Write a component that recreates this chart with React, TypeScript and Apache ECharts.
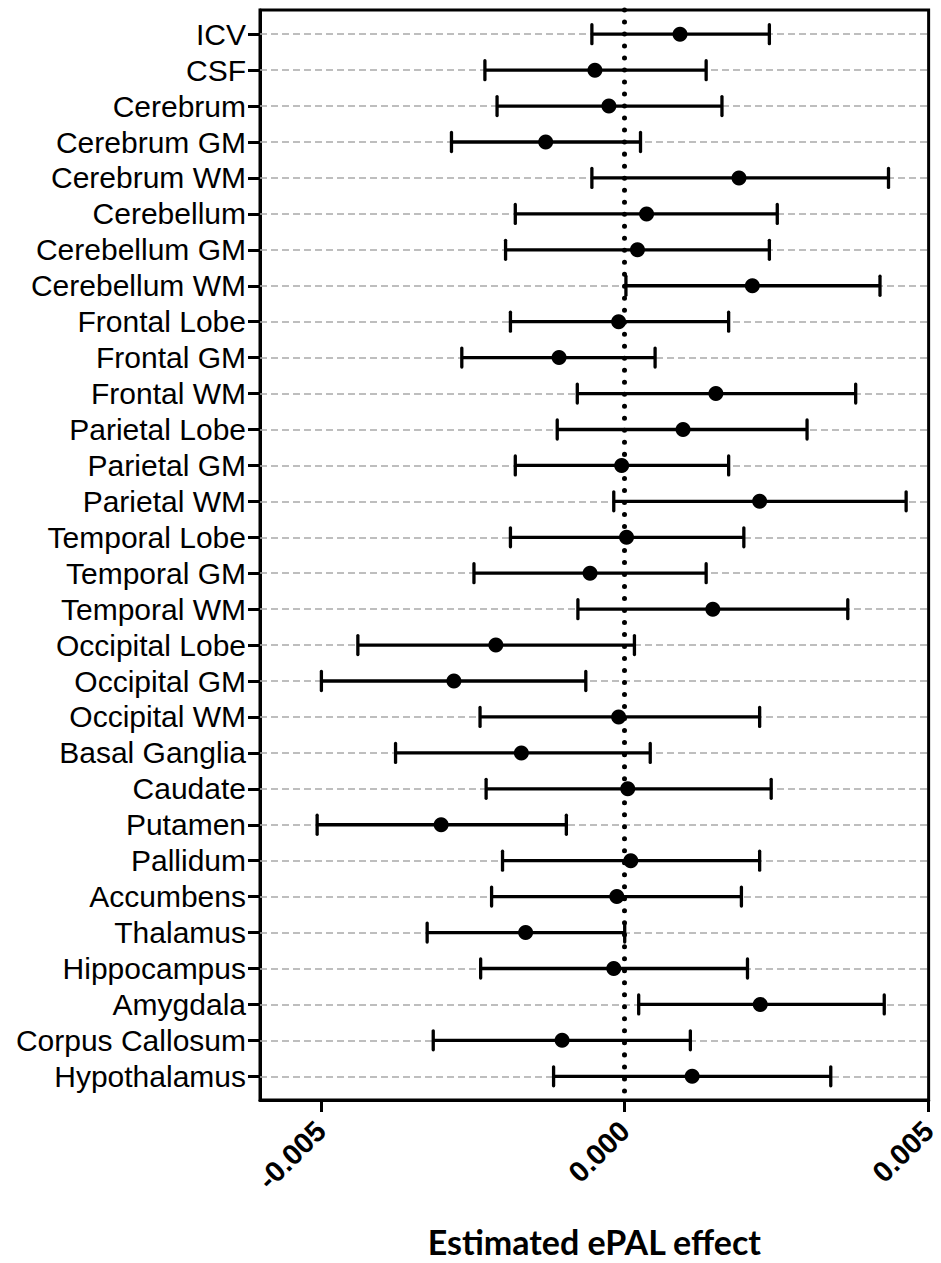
import React, { useEffect, useRef } from "react";
import * as echarts from "echarts";

const regions = [
  "ICV", "CSF", "Cerebrum", "Cerebrum GM", "Cerebrum WM", "Cerebellum",
  "Cerebellum GM", "Cerebellum WM", "Frontal Lobe", "Frontal GM", "Frontal WM",
  "Parietal Lobe", "Parietal GM", "Parietal WM", "Temporal Lobe", "Temporal GM",
  "Temporal WM", "Occipital Lobe", "Occipital GM", "Occipital WM", "Basal Ganglia",
  "Caudate", "Putamen", "Pallidum", "Accumbens", "Thalamus", "Hippocampus",
  "Amygdala", "Corpus Callosum", "Hypothalamus",
];

const estimate = [
  0.00091, -0.00049, -0.00026, -0.0013, 0.00188, 0.00036,
  0.00021, 0.0021, -0.0001, -0.00108, 0.0015,
  0.00096, -0.00005, 0.00222, 0.00003, -0.00057,
  0.00145, -0.00212, -0.00281, -0.0001, -0.0017,
  0.00005, -0.00302, 0.0001, -0.00013, -0.00163, -0.00018,
  0.00223, -0.00103, 0.00111,
];

const lower = [
  -0.00054, -0.0023, -0.0021, -0.00285, -0.00054, -0.0018,
  -0.00196, 0.00002, -0.00188, -0.00268, -0.00078,
  -0.00111, -0.0018, -0.00018, -0.00188, -0.00248,
  -0.00077, -0.00439, -0.00499, -0.00238, -0.00377,
  -0.00228, -0.00506, -0.00201, -0.00219, -0.00325, -0.00237,
  0.00023, -0.00315, -0.00117,
];

const upper = [
  0.00238, 0.00134, 0.0016, 0.00026, 0.00434, 0.00251,
  0.00238, 0.0042, 0.00171, 0.0005, 0.0038,
  0.003, 0.00171, 0.00463, 0.00196, 0.00134,
  0.00367, 0.00016, -0.00064, 0.00222, 0.00042,
  0.00241, -0.00096, 0.00222, 0.00192, 0.0, 0.00202,
  0.00427, 0.00108, 0.00339,
];

const xTicks = [-0.005, 0, 0.005];

const SANS = "Liberation Sans, Arial, Helvetica, sans-serif";

export default function App() {
  const ref = useRef<HTMLDivElement>(null);

  useEffect(() => {
    if (!ref.current) return;
    const chart = echarts.init(ref.current, null, { renderer: "svg" });
    const rows = regions.map((_, i) => i);

    const option = {
      animation: false,
      backgroundColor: "#ffffff",
      grid: {
        left: 260,
        right: 9,
        top: 10,
        bottom: 160,
        show: true,
        borderColor: "#000",
        borderWidth: 3,
        backgroundColor: "transparent",
      },
      xAxis: {
        type: "value",
        min: -0.006,
        max: 0.005,
        name: "Estimated ePAL effect",
        nameLocation: "middle",
        nameGap: 124,
        nameTextStyle: {
          fontFamily: "Lato, Open Sans, sans-serif",
          fontWeight: "bold",
          fontSize: 34,
          color: "#000",
        },
        axisLine: { show: true, onZero: false, lineStyle: { color: "#000", width: 3 } },
        axisTick: {
          show: true,
          customValues: xTicks,
          length: 12,
          lineStyle: { color: "#000", width: 3 },
        },
        axisLabel: {
          customValues: xTicks,
          rotate: 45,
          margin: 26,
          formatter: (v: number) => v.toFixed(3),
          fontFamily: SANS,
          fontWeight: "bold",
          fontSize: 29,
          color: "#000",
        },
        splitLine: { show: false },
      },
      yAxis: {
        type: "value",
        inverse: true,
        min: -0.674,
        max: 29.66,
        axisLine: { show: true, onZero: false, lineStyle: { color: "#000", width: 3 } },
        axisTick: {
          show: true,
          customValues: rows,
          length: 12,
          lineStyle: { color: "#000", width: 3 },
        },
        axisLabel: {
          customValues: rows,
          margin: 14,
          formatter: (v: number) => regions[Math.round(v)] ?? "",
          fontFamily: SANS,
          fontSize: 30,
          color: "#000",
        },
        splitLine: { show: false },
      },
      series: [
        {
          // dashed row guides and the dotted zero reference
          type: "line",
          data: [],
          z: 1,
          markLine: {
            silent: true,
            z: 1,
            symbol: "none",
            label: { show: false },
            data: [
              ...rows.map((i) => ({
                yAxis: i,
                lineStyle: { color: "#a9a9a9", width: 1.6, type: [7, 4] },
              })),
              {
                xAxis: 0,
                lineStyle: { color: "#000", width: 5, type: [0.01, 12], cap: "round" },
              },
            ],
          },
        },
        {
          type: "custom",
          z: 3,
          data: rows.map((i) => [i, lower[i], upper[i]]),
          encode: { x: [1, 2], y: 0 },
          renderItem: (params: any, api: any) => {
            const row = api.value(0);
            const a = api.coord([api.value(1), row]);
            const b = api.coord([api.value(2), row]);
            const half = 9.5;
            const style = { stroke: "#000", lineWidth: 3.3, lineCap: "butt" };
            return {
              type: "group",
              children: [
                { type: "line", shape: { x1: a[0], y1: a[1], x2: b[0], y2: b[1] }, style },
                { type: "line", shape: { x1: a[0], y1: a[1] - half, x2: a[0], y2: a[1] + half }, style: { ...style, lineCap: "round" } },
                { type: "line", shape: { x1: b[0], y1: b[1] - half, x2: b[0], y2: b[1] + half }, style: { ...style, lineCap: "round" } },
              ],
            };
          },
        },
        {
          type: "scatter",
          z: 4,
          symbol: "circle",
          symbolSize: 15,
          itemStyle: { color: "#000", opacity: 1 },
          data: rows.map((i) => [estimate[i], i]),
        },
      ],
    };

    chart.setOption(option as any);
    return () => chart.dispose();
  }, []);

  return (
    <div
      ref={ref}
      style={{ position: "fixed", left: 0, top: 0, width: 941, height: 1263 }}
    />
  );
}
